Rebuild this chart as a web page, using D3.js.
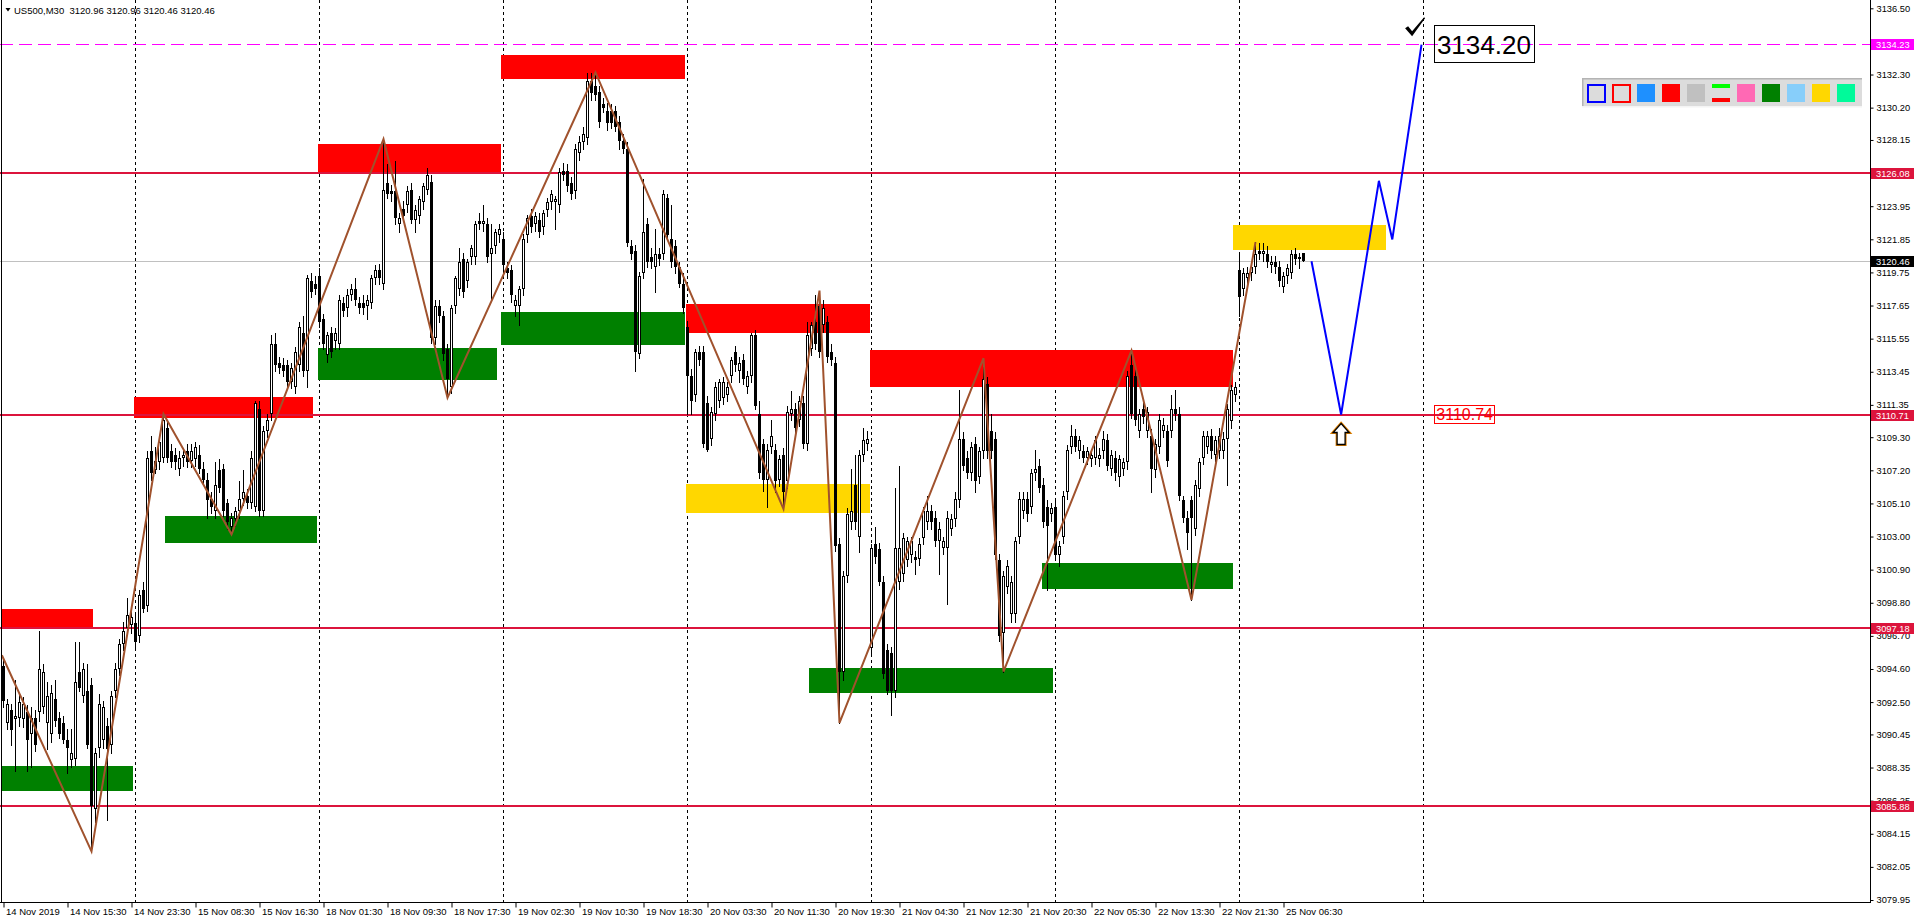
<!DOCTYPE html>
<html><head><meta charset="utf-8">
<script src="https://cdn.jsdelivr.net/npm/d3@7/dist/d3.min.js"></script>
<style>html,body{margin:0;padding:0;background:#fff;overflow:hidden}svg{display:block}text{font-family:"Liberation Sans",Arial,sans-serif}</style>
</head><body><svg id="c" width="1916" height="923"></svg>
<script>
// ---------- DATA ----------
const symbolTitle = "US500,M30  3120.96 3120.96 3120.46 3120.46";
const opens = [
3094.79,3091.2,3092.0,3091.4,3091.5,3091.4,3091.9,3090.5,3091.5,3091.9,
3092.2,3091.2,3090.5,3092.7,3091.5,3091.2,3090.1,3088.8,3088.9,3094.4,
3092.9,3093.2,3093.6,3085.7,3089.6,3090.1,3091.0,3089.8,3093.2,3094.6,
3096.2,3097.2,3097.4,3097.5,3096.7,3099.6,3098.6,3108.4,3107.2,3107.7,
3108.0,3109.9,3108.4,3108.2,3107.3,3108.0,3108.4,3107.8,3107.9,3108.2,
3107.3,3106.6,3105.4,3104.6,3107.2,3107.3,3105.1,3103.6,3104.1,3104.6,
3105.4,3105.6,3105.1,3104.9,3111.1,3104.6,3109.7,3110.8,3115.2,3114.0,
3113.9,3113.9,3112.8,3112.5,3113.9,3115.9,3113.5,3119.2,3119.0,3119.5,
3116.8,3114.5,3115.9,3115.4,3115.2,3117.8,3117.5,3118.3,3118.7,3117.8,
3117.8,3117.6,3117.8,3119.4,3119.9,3119.0,3125.4,3124.9,3124.9,3122.8,
3123.8,3124.0,3125.0,3123.1,3123.3,3124.2,3125.0,3125.5,3115.6,3117.6,
3117.0,3114.9,3112.5,3117.6,3118.7,3120.6,3119.2,3120.7,3120.7,3123.0,
3122.8,3122.8,3120.9,3121.4,3122.1,3121.9,3120.0,3119.9,3117.6,3117.6,
3118.7,3122.1,3123.3,3122.8,3123.1,3122.6,3123.7,3124.2,3124.2,3124.0,
3126.2,3126.2,3125.4,3124.9,3127.3,3128.0,3128.3,3131.9,3131.6,3131.2,
3130.4,3130.0,3130.0,3130.0,3129.3,3128.1,3127.6,3121.4,3121.1,3114.6,
3119.7,3122.8,3120.7,3120.1,3120.9,3120.9,3124.5,3121.9,3121.4,3120.1,
3119.0,3116.3,3113.2,3112.0,3114.7,3114.7,3111.5,3109.2,3110.8,3111.6,
3111.8,3112.0,3113.2,3114.7,3113.5,3114.2,3112.5,3113.2,3115.8,3110.8,
3108.9,3106.6,3108.7,3108.5,3106.6,3108.2,3106.5,3110.8,3111.1,3110.4,
3111.5,3108.9,3114.9,3116.6,3117.6,3116.4,3116.6,3114.7,3114.0,3102.5,
3094.4,3100.5,3103.9,3106.3,3103.0,3108.2,3108.9,3095.9,3102.5,3102.2,
3100.1,3095.8,3095.6,3093.2,3100.1,3100.6,3101.5,3101.8,3101.7,3101.6,
3102.9,3103.9,3104.6,3104.2,3102.7,3102.3,3102.3,3103.5,3104.1,3105.3,
3109.2,3108.0,3107.0,3108.9,3106.8,3108.4,3112.7,3109.7,3109.2,3101.5,
3096.9,3099.8,3098.1,3098.1,3103.0,3104.6,3105.4,3104.9,3107.0,3107.5,
3106.3,3104.9,3104.4,3104.9,3101.8,3103.0,3105.8,3108.7,3109.4,3108.4,
3108.4,3108.0,3107.9,3108.0,3107.9,3108.4,3109.1,3107.3,3108.0,3106.8,
3107.3,3107.7,3113.9,3113.2,3109.7,3111.1,3109.7,3109.4,3107.2,3108.7,
3109.7,3109.7,3109.7,3111.1,3110.8,3105.3,3104.2,3105.3,3103.5,3106.0,
3108.0,3108.7,3109.4,3108.2,3108.4,3108.4,3109.2,3110.3,3112.0,3119.9,
3118.7,3119.4,3119.7,3120.1,3121.1,3120.9,3120.9,3120.2,3120.4,3120.1,
3118.8,3119.5,3119.7,3120.9,3120.7,3120.96];
const highs = [
3095.3,3092.7,3092.4,3093.9,3093.1,3092.8,3092.3,3092.2,3092.0,3097.0,
3094.9,3093.8,3093.6,3093.9,3091.9,3091.6,3090.8,3090.8,3096.3,3096.3,
3095.0,3094.9,3094.0,3089.6,3093.0,3092.6,3091.5,3093.2,3095.0,3096.5,
3097.6,3099.1,3098.3,3098.0,3099.6,3100.1,3108.4,3109.4,3108.7,3109.4,
3110.8,3110.3,3108.9,3108.6,3108.4,3108.6,3108.9,3108.9,3109.0,3108.8,
3107.7,3107.0,3105.8,3107.7,3107.9,3107.6,3105.4,3104.5,3104.9,3106.5,
3107.2,3106.0,3108.4,3111.6,3111.6,3110.0,3110.8,3115.8,3115.9,3114.4,
3114.3,3114.2,3114.0,3115.0,3116.6,3117.0,3119.6,3119.7,3119.5,3120.0,
3117.1,3116.0,3116.3,3116.2,3118.3,3118.2,3118.7,3119.0,3119.4,3118.2,
3118.3,3118.3,3119.6,3120.2,3120.3,3128.2,3126.6,3125.3,3126.8,3123.5,
3124.3,3125.2,3125.4,3124.0,3124.6,3125.4,3126.4,3125.9,3118.0,3118.0,
3117.3,3115.2,3117.7,3119.5,3121.3,3121.0,3120.6,3121.5,3123.0,3123.5,
3124.0,3123.2,3122.8,3122.5,3122.8,3122.3,3120.4,3120.2,3118.3,3118.9,
3122.2,3123.4,3123.8,3123.6,3123.5,3123.7,3124.5,3125.0,3124.6,3126.4,
3126.7,3126.6,3125.8,3127.9,3128.4,3129.0,3132.4,3132.4,3132.4,3131.6,
3130.8,3130.5,3130.4,3130.3,3129.7,3128.5,3128.0,3121.8,3121.5,3119.8,
3125.7,3123.2,3121.3,3122.5,3121.3,3125.0,3124.7,3124.0,3121.8,3120.4,
3119.7,3116.7,3113.6,3114.9,3115.1,3115.1,3111.9,3111.2,3112.8,3113.0,
3113.1,3112.8,3114.4,3115.1,3114.4,3114.6,3113.5,3115.9,3116.1,3111.6,
3109.2,3108.9,3110.4,3108.9,3108.2,3108.6,3111.3,3112.2,3111.5,3111.9,
3111.9,3116.6,3116.6,3118.3,3118.6,3118.0,3117.0,3115.2,3114.4,3102.9,
3100.8,3104.8,3107.3,3108.2,3108.5,3109.9,3109.7,3102.5,3103.6,3102.6,
3100.5,3096.2,3096.0,3106.1,3107.5,3103.2,3103.0,3103.0,3102.1,3102.9,
3104.9,3105.6,3105.0,3104.6,3103.9,3103.0,3104.6,3104.4,3105.8,3112.3,
3109.6,3108.4,3109.0,3109.3,3108.7,3114.3,3113.1,3110.8,3109.6,3101.9,
3100.8,3101.5,3100.5,3103.0,3105.8,3105.8,3105.8,3107.3,3108.5,3107.9,
3106.7,3105.3,3105.1,3105.3,3102.7,3105.9,3108.8,3110.1,3109.8,3109.4,
3108.8,3108.7,3108.5,3109.4,3108.6,3109.7,3109.5,3108.5,3108.4,3108.2,
3108.0,3113.5,3114.8,3113.6,3111.1,3111.5,3111.2,3109.8,3109.2,3110.8,
3110.5,3110.1,3112.0,3112.3,3111.2,3105.6,3104.6,3105.6,3106.6,3108.0,
3109.7,3109.7,3109.8,3109.4,3109.9,3109.6,3111.4,3112.6,3112.8,3120.9,
3120.0,3120.1,3120.4,3121.7,3121.6,3121.6,3121.4,3120.8,3120.8,3120.5,
3119.8,3120.3,3121.2,3121.3,3121.0,3120.96];
const lows = [
3092.2,3090.8,3089.8,3088.1,3091.0,3090.9,3088.1,3088.4,3089.4,3091.3,
3091.8,3089.5,3090.0,3091.0,3090.2,3089.9,3088.0,3088.4,3088.5,3093.2,
3092.5,3089.6,3083.0,3084.9,3089.0,3089.6,3085.0,3089.3,3092.8,3094.2,
3095.8,3096.8,3096.9,3096.0,3096.3,3098.2,3098.3,3106.6,3107.0,3107.3,
3107.7,3107.7,3107.4,3107.3,3106.9,3107.5,3107.4,3107.4,3107.5,3107.0,
3106.3,3104.2,3104.5,3104.2,3105.8,3104.3,3103.5,3103.1,3103.7,3104.2,
3105.0,3104.8,3104.8,3104.6,3104.3,3104.3,3109.3,3110.4,3113.5,3113.4,
3113.2,3112.5,3112.4,3112.1,3113.5,3113.2,3112.5,3118.2,3118.4,3116.3,
3114.9,3114.1,3114.4,3114.9,3114.9,3117.0,3117.0,3118.0,3117.7,3117.2,
3117.1,3116.8,3117.5,3119.0,3119.0,3118.7,3124.5,3124.3,3122.8,3122.3,
3123.0,3123.6,3122.9,3122.3,3122.9,3123.8,3124.7,3115.3,3115.2,3116.6,
3114.2,3111.8,3112.1,3117.2,3118.3,3118.2,3118.8,3120.3,3120.3,3122.5,
3122.4,3120.4,3118.0,3121.0,3121.7,3119.9,3119.4,3117.9,3117.0,3116.4,
3118.3,3121.7,3122.3,3122.4,3122.0,3122.2,3123.3,3123.8,3122.5,3123.6,
3125.6,3124.9,3124.4,3124.5,3126.9,3127.6,3127.9,3130.7,3130.7,3129.0,
3129.9,3128.8,3128.9,3128.7,3127.6,3127.3,3121.4,3120.6,3113.5,3114.3,
3119.4,3120.1,3120.0,3118.5,3120.2,3120.6,3121.8,3120.1,3119.7,3118.8,
3117.2,3110.8,3110.8,3111.6,3113.9,3108.7,3108.4,3108.8,3110.4,3111.2,
3111.4,3111.6,3112.8,3113.5,3112.8,3112.7,3112.1,3112.8,3111.1,3106.7,
3105.9,3104.9,3108.3,3105.8,3106.2,3104.8,3106.1,3110.4,3109.6,3110.0,
3108.6,3108.5,3114.5,3114.9,3114.4,3116.0,3114.1,3113.9,3102.1,3091.2,
3093.9,3100.1,3103.5,3103.5,3102.0,3107.8,3108.5,3095.5,3101.3,3099.9,
3094.0,3093.0,3091.7,3092.8,3099.7,3100.2,3101.1,3101.4,3100.6,3101.2,
3102.5,3103.5,3103.5,3102.4,3100.6,3101.9,3098.7,3103.1,3103.7,3104.9,
3107.2,3106.7,3106.6,3105.8,3106.4,3108.0,3108.0,3108.0,3101.6,3096.4,
3094.4,3099.4,3097.6,3097.6,3102.6,3104.2,3104.0,3104.5,3106.6,3105.8,
3103.6,3099.6,3104.0,3101.6,3101.1,3102.6,3105.4,3108.3,3108.4,3108.0,
3107.7,3107.6,3107.5,3107.6,3107.5,3108.0,3107.2,3106.9,3106.6,3106.2,
3106.9,3107.3,3110.5,3110.1,3109.3,3110.2,3109.3,3105.8,3106.8,3108.3,
3109.3,3107.5,3109.3,3110.4,3105.3,3103.9,3102.2,3099.0,3103.1,3105.6,
3107.6,3108.3,3108.0,3107.8,3108.0,3108.0,3106.3,3109.9,3111.6,3117.0,
3118.3,3119.0,3119.3,3119.7,3120.6,3120.5,3120.1,3119.8,3119.7,3118.9,
3118.5,3119.1,3119.4,3120.3,3120.0,3120.46];
const closes = [
3092.55,3092.4,3090.7,3091.6,3092.5,3092.4,3090.1,3091.5,3089.8,3094.6,
3094.4,3092.9,3093.1,3091.3,3090.5,3090.1,3089.6,3089.3,3093.8,3093.4,
3094.6,3089.8,3085.9,3089.3,3092.4,3092.2,3089.5,3092.9,3094.6,3096.2,
3097.0,3098.0,3097.9,3096.3,3099.3,3098.4,3108.0,3107.0,3107.8,3109.0,
3110.4,3108.0,3107.7,3107.7,3108.0,3108.2,3107.7,3108.4,3108.7,3107.3,
3106.6,3105.3,3104.9,3106.3,3106.1,3104.6,3103.9,3104.2,3104.6,3105.4,
3105.8,3105.1,3108.0,3111.5,3104.6,3109.7,3110.4,3115.2,3113.9,3113.7,
3113.5,3112.8,3113.7,3114.7,3116.3,3113.5,3119.4,3118.5,3118.7,3116.6,
3115.2,3115.8,3114.7,3115.9,3118.0,3117.3,3118.3,3118.7,3118.0,3117.5,
3117.5,3118.0,3119.4,3119.9,3119.4,3125.0,3124.7,3124.7,3123.2,3123.2,
3123.3,3124.9,3123.1,3123.7,3124.4,3125.2,3125.9,3115.6,3117.6,3117.0,
3114.6,3113.0,3117.5,3119.4,3120.4,3118.5,3120.4,3121.3,3122.8,3122.8,
3123.0,3120.7,3121.3,3122.3,3122.5,3120.2,3119.7,3118.3,3118.0,3118.7,
3121.9,3123.2,3122.6,3123.3,3122.3,3123.5,3124.2,3124.7,3124.4,3126.1,
3125.9,3125.2,3124.7,3127.6,3128.0,3128.5,3131.9,3131.1,3131.0,3129.3,
3130.2,3129.2,3129.2,3129.0,3128.1,3127.6,3121.6,3120.9,3114.7,3119.5,
3122.3,3120.4,3120.4,3120.9,3120.6,3124.7,3122.1,3120.4,3120.1,3119.0,
3117.5,3113.2,3111.6,3114.7,3114.2,3108.9,3108.5,3110.9,3112.5,3112.8,
3112.8,3112.5,3114.2,3113.9,3114.0,3113.0,3113.2,3115.8,3111.3,3107.0,
3106.6,3108.5,3109.4,3106.5,3107.9,3105.8,3110.9,3111.1,3109.9,3111.6,
3108.9,3115.8,3116.4,3115.2,3114.7,3117.5,3114.4,3114.2,3102.4,3094.4,
3100.5,3104.4,3104.6,3103.9,3108.2,3109.1,3109.2,3102.3,3101.7,3100.1,
3094.3,3093.2,3093.2,3102.3,3102.3,3102.9,3102.7,3102.7,3101.5,3102.5,
3104.6,3104.6,3103.9,3102.7,3103.5,3102.7,3104.2,3104.1,3105.4,3109.2,
3107.5,3107.0,3108.7,3106.5,3108.4,3113.0,3108.4,3108.4,3101.8,3096.7,
3100.5,3101.1,3100.1,3102.7,3105.4,3105.4,3104.4,3107.0,3107.3,3106.1,
3103.9,3103.7,3104.8,3101.8,3102.4,3105.6,3108.5,3109.4,3108.7,3109.1,
3108.0,3108.4,3108.2,3109.1,3108.2,3109.2,3107.5,3108.2,3107.0,3107.9,
3107.7,3113.2,3110.8,3110.4,3110.8,3110.6,3110.9,3107.3,3108.9,3110.4,
3110.1,3107.8,3111.1,3110.8,3105.6,3104.2,3103.2,3104.2,3106.3,3107.7,
3109.4,3109.4,3108.4,3109.1,3109.4,3109.2,3111.1,3112.3,3112.5,3118.2,
3119.7,3119.7,3120.1,3120.9,3120.9,3121.1,3120.4,3120.4,3120.1,3119.2,
3119.5,3120.0,3120.9,3120.6,3120.6,3120.46];

const timeTickBars = [0,16,32,48,64,80,96,112,128,144,160,176,192,208,224,240,256,272,288,304,320];
const timeTickLabels = ["14 Nov 2019","14 Nov 15:30","14 Nov 23:30","15 Nov 08:30","15 Nov 16:30","18 Nov 01:30","18 Nov 09:30","18 Nov 17:30","19 Nov 02:30","19 Nov 10:30","19 Nov 18:30","20 Nov 03:30","20 Nov 11:30","20 Nov 19:30","21 Nov 04:30","21 Nov 12:30","21 Nov 20:30","22 Nov 05:30","22 Nov 13:30","22 Nov 21:30","25 Nov 06:30"];
const dayGridBars = [33,79,125,171,217,263,309,355];
const priceTicks = [3136.50,3134.40,3132.30,3130.20,3128.15,3126.05,3123.95,3121.85,3119.75,3117.65,3115.55,3113.45,3111.35,3109.30,3107.20,3105.10,3103.00,3100.90,3098.80,3096.70,3094.60,3092.50,3090.45,3088.35,3086.25,3084.15,3082.05,3079.95];

const levelPrices = [3126.08, 3110.71, 3097.18, 3085.88];
const targetLevel = 3134.23;
const bidPrice = 3120.46;

const zoneStart = [-0.1,-0.1,33,40.9,79.1,79.1,124.9,124.9,171,171,201.9,217,260,307.8];
const zoneEnd   = [22.9,32.9,77.8,78.9,124.9,123.8,170.9,170.9,216.9,216.9,263,307.8,307.8,346.1];
const zoneHigh  = [3098.39,3088.42,3111.84,3104.31,3127.89,3114.96,3133.53,3117.23,3117.75,3106.34,3094.68,3114.83,3101.32,3122.77];
const zoneLow   = [3097.26,3086.85,3110.50,3102.62,3126.14,3112.90,3131.98,3115.14,3115.93,3104.48,3093.07,3112.49,3099.70,3121.19];
const zoneKind  = ["supply","demand","supply","demand","supply","demand","supply","demand","supply","mid","demand","supply","demand","mid"];

const zigzagBars   = [-0.4,22,40,57,95,111,148,195,204,209,245,250,282,297,313];
const zigzagPrices = [3095.47,3083.03,3110.77,3103.14,3128.2,3111.8,3132.43,3104.75,3118.6,3091.18,3114.31,3094.44,3114.79,3098.98,3121.67];

const forecastBars   = [327,334.4,343.85,347.2,354.5];
const forecastPrices = [3120.46,3110.74,3125.56,3121.84,3134.20];

const targetLabel = "3134.20";
const targetLabelBar = 370.1;
const supportLabel = "3110.74";
const supportLabelBar = 357.7;
const checkBar = 352.9, checkPrice = 3135.3;

// ---------- DRAW ----------
const W=1916, H=923, PL=1870, PBt=902;
const svg = d3.select("#c");
const x = d3.scaleLinear().domain([0,466.75]).range([3.5,1870.5]);
const y = d3.scaleLinear().domain([3079.95,3136.50]).range([900,8.3]);
const fmt = d3.format(".2f");

svg.append("rect").attr("width",W).attr("height",H).attr("fill","#fff");
svg.append("clipPath").attr("id","pc").append("rect").attr("x",0).attr("y",0).attr("width",PL).attr("height",PBt);
const g = svg.append("g").attr("clip-path","url(#pc)");

// grid
g.append("g").selectAll("line").data(dayGridBars).join("line")
  .attr("x1",d=>Math.floor(x(d))+0.5).attr("x2",d=>Math.floor(x(d))+0.5)
  .attr("y1",0).attr("y2",PBt).attr("stroke","#000").attr("stroke-width",1)
  .attr("stroke-dasharray","3,3").attr("shape-rendering","crispEdges");

// zones
const zoneColor = {supply:"#ff0000", demand:"#008000", mid:"#ffd700"};
g.append("g").selectAll("rect").data(d3.range(zoneStart.length)).join("rect")
  .attr("x",i=>Math.round(x(zoneStart[i])-2))
  .attr("width",i=>Math.round(x(zoneEnd[i])-x(zoneStart[i])))
  .attr("y",i=>Math.round(y(zoneHigh[i])))
  .attr("height",i=>Math.round(y(zoneLow[i])-y(zoneHigh[i])))
  .attr("fill",i=>zoneColor[zoneKind[i]]).attr("shape-rendering","crispEdges");

// bid line
g.append("line").attr("x1",0).attr("x2",PL).attr("y1",Math.round(y(bidPrice))+0.5).attr("y2",Math.round(y(bidPrice))+0.5)
  .attr("stroke","#c0c0c0").attr("shape-rendering","crispEdges");

// levels
g.append("g").selectAll("line").data(levelPrices).join("line")
  .attr("x1",0).attr("x2",PL).attr("y1",d=>Math.round(y(d))).attr("y2",d=>Math.round(y(d)))
  .attr("stroke","#dc143c").attr("stroke-width",2).attr("shape-rendering","crispEdges");
g.append("line").attr("x1",0).attr("x2",PL).attr("y1",Math.round(y(targetLevel))+0.5).attr("y2",Math.round(y(targetLevel))+0.5)
  .attr("stroke","#ff00ff").attr("stroke-width",1).attr("stroke-dasharray","13,6").attr("shape-rendering","crispEdges");

// candles
const cg = g.append("g").attr("shape-rendering","crispEdges");
const bars = d3.range(opens.length);
const cs = cg.selectAll("g").data(bars).join("g");
cs.append("line")
  .attr("x1",i=>Math.floor(x(i))+0.5).attr("x2",i=>Math.floor(x(i))+0.5)
  .attr("y1",i=>Math.round(y(highs[i]))).attr("y2",i=>Math.round(y(lows[i]))+1)
  .attr("stroke","#000");
cs.each(function(i){
  const sel=d3.select(this);
  const cx=Math.floor(x(i));
  const o=opens[i], c=closes[i];
  const yt=Math.round(y(Math.max(o,c))), yb=Math.round(y(Math.min(o,c)));
  if (yb-yt<2){
    sel.append("line").attr("x1",cx-1).attr("x2",cx+2).attr("y1",yt+0.5).attr("y2",yt+0.5).attr("stroke","#000");
  } else if (c>=o){
    sel.append("rect").attr("x",cx-0.5).attr("y",yt+0.5).attr("width",2).attr("height",yb-yt-1)
      .attr("fill","#fff").attr("stroke","#000");
  } else {
    sel.append("rect").attr("x",cx-1).attr("y",yt).attr("width",3).attr("height",yb-yt).attr("fill","#000");
  }
});

// zigzag
const line = d3.line().x(d=>x(d[0])).y(d=>y(d[1]));
g.append("path").datum(zigzagBars.map((b,i)=>[b,zigzagPrices[i]]))
  .attr("d",line).attr("fill","none").attr("stroke","#a0522d").attr("stroke-width",2).attr("stroke-linejoin","miter");

// forecast
g.append("path").datum(forecastBars.map((b,i)=>[b,forecastPrices[i]]))
  .attr("d",line).attr("fill","none").attr("stroke","#0000ff").attr("stroke-width",2);

// target label box
const tl = g.append("g");
const tt = tl.append("text").attr("x",x(targetLabelBar)).attr("y",y(targetLevel)+9.5)
  .attr("text-anchor","middle").attr("font-size",26).attr("fill","#000").text(targetLabel);
const tb = tt.node().getBBox();
tl.insert("rect","text").attr("x",Math.round(tb.x-3)+0.5).attr("y",Math.round(y(targetLevel)-19)+0.5)
  .attr("width",Math.round(tb.width+6)).attr("height",37).attr("fill","none").attr("stroke","#000");

// support label box
const sl = g.append("g");
const st = sl.append("text").attr("x",x(supportLabelBar)+2).attr("y",y(forecastPrices[1])+6)
  .attr("font-size",16).attr("fill","#ff0000").text(supportLabel);
const sb = st.node().getBBox();
sl.insert("rect","text").attr("x",Math.round(x(supportLabelBar))+0.5).attr("y",Math.round(y(forecastPrices[1])-9)+0.5)
  .attr("width",Math.round(sb.width+3)).attr("height",18).attr("fill","none").attr("stroke","#ff0000");

// checkmark
const ckx=x(checkBar), cky=y(checkPrice);
g.append("path").attr("d",`M${ckx-10},${cky+1} L${ckx-7},${cky-1} L${ckx-3},${cky+4} L${ckx+9},${cky-10} L${ckx+10},${cky-9} L${ckx-3},${cky+9} Z`)
  .attr("fill","#000");

// up arrow
const ax=x(forecastBars[1]), ay=y(forecastPrices[1])+9;
g.append("path").attr("d",`M${ax},${ay} L${ax+8},${ay+9} L${ax+4},${ay+9} L${ax+4},${ay+21} L${ax-4},${ay+21} L${ax-4},${ay+9} L${ax-8},${ay+9} Z`)
  .attr("fill","#fff").attr("stroke","#e08000").attr("stroke-width",3).attr("stroke-linejoin","miter");
g.append("path").attr("d",`M${ax},${ay} L${ax+8},${ay+9} L${ax+4},${ay+9} L${ax+4},${ay+21} L${ax-4},${ay+21} L${ax-4},${ay+9} L${ax-8},${ay+9} Z`)
  .attr("fill","#fff").attr("stroke","#000").attr("stroke-width",1.3).attr("stroke-linejoin","miter");

// frame
svg.append("line").attr("x1",PL+0.5).attr("x2",PL+0.5).attr("y1",0).attr("y2",PBt+1).attr("stroke","#000").attr("shape-rendering","crispEdges");
svg.append("line").attr("x1",0).attr("x2",PL+1).attr("y1",PBt+0.5).attr("y2",PBt+0.5).attr("stroke","#000").attr("shape-rendering","crispEdges");
svg.append("line").attr("x1",1.5).attr("x2",1.5).attr("y1",0).attr("y2",PBt).attr("stroke","#000").attr("shape-rendering","crispEdges");

// right axis
const ya = svg.append("g").attr("transform",`translate(${PL+0.5},0)`)
  .call(d3.axisRight(y).tickValues(priceTicks).tickFormat(fmt).tickSize(3).tickPadding(3));
ya.select(".domain").remove();
ya.selectAll("text").attr("font-family","'Liberation Sans',Arial,sans-serif").attr("font-size",9.3).attr("fill","#000");
ya.selectAll("line").attr("stroke","#000");

// bottom axis
const xa = svg.append("g").attr("transform",`translate(0,${PBt+0.5})`)
  .call(d3.axisBottom(x).tickValues(timeTickBars).tickFormat((d,i)=>timeTickLabels[i]).tickSize(5).tickPadding(2));
xa.select(".domain").remove();
xa.selectAll("text").attr("text-anchor","start").attr("dx",2).attr("dy","0.6em")
  .attr("font-family","'Liberation Sans',Arial,sans-serif").attr("font-size",9.5).attr("fill","#000");
xa.selectAll("line").attr("stroke","#000");

// price labels on axis
const tags = [
  {p:targetLevel, bg:"#ff00ff"},
  ...levelPrices.map(p=>({p, bg:"#dc143c"})),
  {p:bidPrice, bg:"#000"}
];
const tg = svg.append("g").selectAll("g").data(tags).join("g");
tg.append("rect").attr("x",PL+1).attr("y",d=>Math.round(y(d.p))-5).attr("width",43).attr("height",11)
  .attr("fill",d=>d.bg).attr("shape-rendering","crispEdges");
tg.append("text").attr("x",PL+6).attr("y",d=>Math.round(y(d.p))+4).attr("font-size",9.3).attr("fill","#fff").text(d=>fmt(d.p));

// header
svg.append("path").attr("d","M5.5,8 L10.5,8 L8,11.5 Z").attr("fill","#000");
svg.append("text").attr("x",14).attr("y",14).attr("font-size",9.5).attr("fill","#000")
  .attr("xml:space","preserve").style("white-space","pre").text(symbolTitle);

// toolbar
const tb2 = svg.append("g");
tb2.append("rect").attr("x",1582).attr("y",78).attr("width",280).attr("height",29).attr("fill","#dcdcdc");
tb2.append("rect").attr("x",1582).attr("y",78).attr("width",280).attr("height",1.5).attr("fill","#b4b4b4");
tb2.append("rect").attr("x",1582).attr("y",78).attr("width",1.5).attr("height",29).attr("fill","#b4b4b4");
tb2.append("rect").attr("x",1582).attr("y",106).attr("width",280).attr("height",1.5).attr("fill","#f4f4f4");
const swatches = ["outline:#0000ff","outline:#ff0000","#1e90ff","#ff0000","#c0c0c0","split","#ff69b4","#008000","#87cefa","#ffd700","#00fa9a"];
swatches.forEach((s,k)=>{
  const sx=1587+25*k, sy=84;
  if (s.startsWith("outline:")) {
    tb2.append("rect").attr("x",sx+1).attr("y",sy+1).attr("width",17).attr("height",17)
      .attr("fill","#dcdcdc").attr("stroke",s.slice(8)).attr("stroke-width",2);
  } else if (s==="split") {
    tb2.append("rect").attr("x",sx).attr("y",sy).attr("width",18).attr("height",4).attr("fill","#00ff00");
    tb2.append("rect").attr("x",sx).attr("y",sy+14).attr("width",18).attr("height",4).attr("fill","#ff0000");
  } else {
    tb2.append("rect").attr("x",sx).attr("y",sy).attr("width",18).attr("height",18).attr("fill",s);
  }
});
</script></body></html>
